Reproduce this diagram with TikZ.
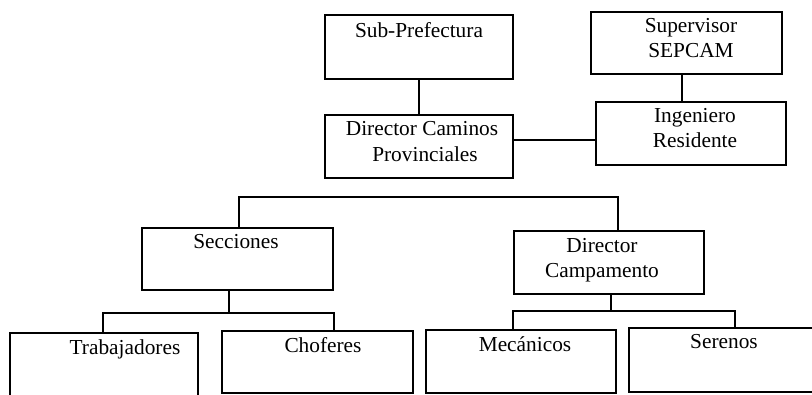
\documentclass[tikz,border=0pt]{standalone}
\usepackage{fontspec}
\setmainfont{Liberation Serif}
\usetikzlibrary{fit}
\begin{document}
\begin{tikzpicture}[x=0.75pt,y=-0.75pt,
  box/.style={draw, line width=1.4pt, inner sep=0pt},
  lbl/.style={anchor=base, inner sep=0pt, font=\fontsize{16}{19}\selectfont},
  wire/.style={line width=1.4pt}]
\fill[white] (0,0) rectangle (812,394);
\useasboundingbox (0,0) rectangle (812,394);
\clip (0,0) rectangle (812,394);

% top level boxes
\node[box, fit={(325,15) (513,79)}] (sp) {};
\node[lbl] (sp-t) at (419,37) {Sub-Prefectura};

\node[box, fit={(591,12) (782,74)}] (sup) {};
\node[lbl] (sup-t1) at (691,32) {Supervisor};
\node[lbl] (sup-t2) at (691,57) {SEPCAM};

\node[box, fit={(325,115) (513,178)}] (dc) {};
\node[lbl] (dc-t1) at (422,135) {Director Caminos};
\node[lbl] (dc-t2) at (425,161) {Provinciales};

\node[box, fit={(596,102) (786,165)}] (ing) {};
\node[lbl] (ing-t1) at (695,122) {Ingeniero};
\node[lbl] (ing-t2) at (695,147) {Residente};

% second level
\node[box, fit={(142,228) (333,290)}] (sec) {};
\node[lbl] (sec-t) at (236,248) {Secciones};

\node[box, fit={(514,231) (704,294)}] (dca) {};
\node[lbl] (dca-t1) at (602,252) {Director};
\node[lbl] (dca-t2) at (602,277) {Campamento};

% third level
\node[box, fit={(10,333) (198,400)}] (tra) {};
\node[lbl] (tra-t) at (125,354) {Trabajadores};

\node[box, fit={(222,331) (413,393)}] (cho) {};
\node[lbl] (cho-t) at (323,352) {Choferes};

\node[box, fit={(426,330) (616,393)}] (mec) {};
\node[lbl] (mec-t) at (525,351) {Mecánicos};

\node[box, fit={(629,328) (820,392)}] (ser) {};
\node[lbl] (ser-t) at (724,348) {Serenos};

% connectors
\draw[wire] (sp.south) -- (dc.north);
\coordinate (supx) at (682,0);
\draw[wire] (supx |- sup.south) -- (supx |- ing.north);
\coordinate (j1) at (513,140);
\draw[wire] (j1) -- (j1 -| ing.west);

\coordinate (tbl) at (239,197);
\coordinate (tbr) at (618,197);
\draw[wire] (tbl |- sec.north) -- (tbl) -- (tbr) -- (tbr |- dca.north);

\coordinate (sx) at (229,313);
\coordinate (sl) at (103,313);
\coordinate (sr) at (334,313);
\draw[wire] (sx |- sec.south) -- (sx);
\draw[wire] (sl |- tra.north) -- (sl) -- (sr) -- (sr |- cho.north);

\coordinate (dx) at (611,311);
\coordinate (dl) at (513,311);
\coordinate (dr) at (735,311);
\draw[wire] (dx |- dca.south) -- (dx);
\draw[wire] (dl |- mec.north) -- (dl) -- (dr) -- (dr |- ser.north);
\end{tikzpicture}
\end{document}
